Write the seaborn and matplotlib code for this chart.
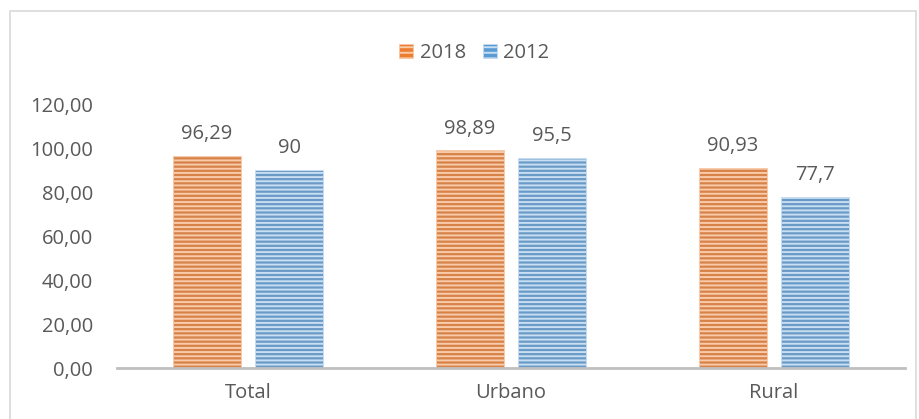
import matplotlib
matplotlib.use("Agg")
import matplotlib.pyplot as plt
import seaborn as sns
import pandas as pd
from matplotlib.patches import Rectangle, Patch

categories = ["Total", "Urbano", "Rural"]
series_names = ["2018", "2012"]
values_2018 = [96.29, 98.89, 90.93]
values_2012 = [90, 95.5, 77.7]
label_2018 = ["96,29", "98,89", "90,93"]
label_2012 = ["90", "95,5", "77,7"]
yticks = [0, 20, 40, 60, 80, 100, 120]

sns.set_theme(style="white")
plt.rcParams["font.family"] = ["Open Sans", "DejaVu Sans"]
plt.rcParams["hatch.linewidth"] = 1.4

df = pd.DataFrame({
    "cat": categories * 2,
    "year": [series_names[0]] * 3 + [series_names[1]] * 3,
    "val": values_2018 + values_2012,
})

colors = {"2018": "#ED7D31", "2012": "#5B9BD5"}
hatchcols = {"2018": "#F9CBAA", "2012": "#C8DEF2"}
txt = "#595959"
fs = 14.5

fig = plt.figure(figsize=(9.19, 4.19), dpi=100)
ax = fig.add_axes([0.127, 0.1217, 0.858, 0.630])
sns.barplot(data=df, x="cat", y="val", hue="year", hue_order=series_names,
            palette=colors, width=0.628, gap=0.176, ax=ax, legend=False)

for container, yr, labs in zip(ax.containers, series_names, [label_2018, label_2012]):
    for bar, lab in zip(container, labs):
        bar.set_hatch("----")
        bar.set_edgecolor(hatchcols[yr])
        bar.set_linewidth(0.6)
        ax.text(bar.get_x() + bar.get_width() / 2, bar.get_height() + 7.7, lab,
                ha="center", va="baseline", fontsize=fs, color=txt)

ax.set_ylim(0, 120)
ax.set_yticks(yticks)
ax.set_yticklabels([f"{v:.2f}".replace(".", ",") for v in yticks])
ax.set_xlabel("")
ax.set_ylabel("")
ax.tick_params(axis="both", length=0, labelsize=fs, labelcolor=txt)
ax.tick_params(axis="y", pad=17)
ax.tick_params(axis="x", pad=11)
for s in ["top", "right", "left"]:
    ax.spines[s].set_visible(False)
ax.spines["bottom"].set_color("#BFBFBF")
ax.spines["bottom"].set_linewidth(2)
ax.set_xlim(-0.5, 2.5)

handles = [Patch(facecolor=colors[y], edgecolor=hatchcols[y], hatch="---", linewidth=0.5)
           for y in series_names]
fig.legend(handles, series_names, loc="center", bbox_to_anchor=(0.516, 0.874),
           ncol=2, frameon=False, fontsize=fs, labelcolor=txt,
           handlelength=0.7, handleheight=0.7, handletextpad=0.3, columnspacing=0.85)

fig.patches.append(Rectangle((10 / 919, -0.01), 906 / 919, 1 - 11 / 419 + 0.01,
                             transform=fig.transFigure, fill=False,
                             edgecolor="#D9D9D9", linewidth=1.2))

fig.savefig("out.png", dpi=100)
